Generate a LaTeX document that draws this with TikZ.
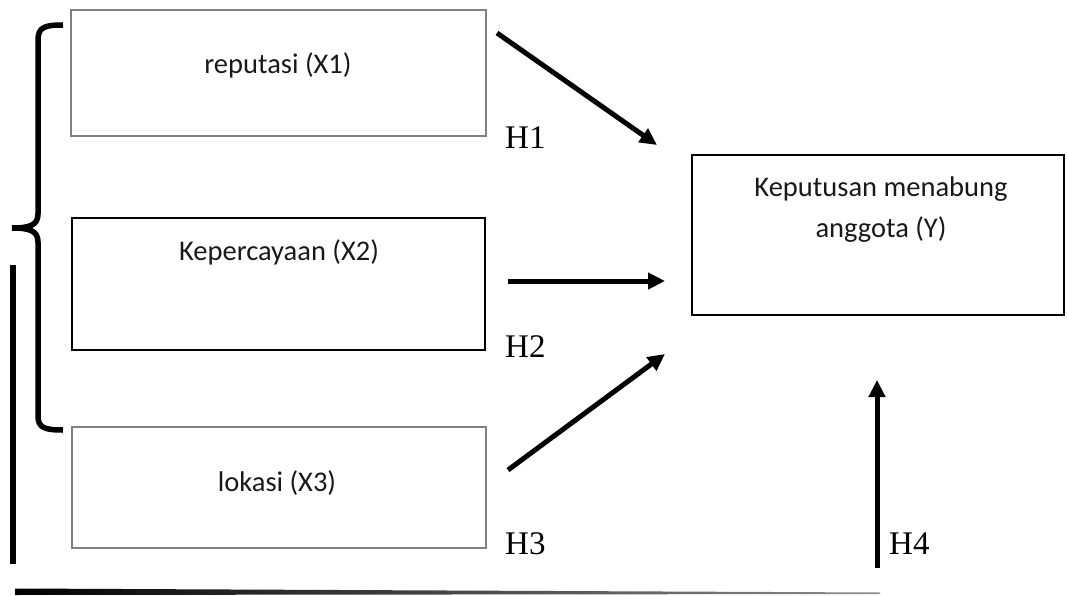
\documentclass[tikz,border=0pt]{standalone}
\usepackage{fontspec}
\setmainfont{Liberation Serif}
\newfontfamily\boxfont{Carlito}
\usetikzlibrary{arrows.meta}
\begin{document}
\begin{tikzpicture}[x=1pt,y=-1pt,
  graybox/.style={draw=black!50, line width=1.8pt, rectangle, inner sep=0pt},
  blackbox/.style={draw=black, line width=1.4pt, rectangle, inner sep=0pt},
  boxtext/.style={font=\boxfont\fontsize{28.5}{41}\selectfont, text=black!90, align=center, inner sep=0pt},
  hlabel/.style={font=\fontsize{33}{36}\selectfont, anchor=west, inner sep=0pt},
  conn/.style={line width=5pt, -{Triangle[length=17pt,width=16pt]}},
  heavy/.style={line width=5.5pt}
]
\useasboundingbox (0,0) rectangle (1068,596);

% boxes
\node[graybox, minimum width=415pt, minimum height=126pt] (x1) at (278.5,73) {};
\node[blackbox, minimum width=413pt, minimum height=132pt] (x2) at (278.5,284) {};
\node[graybox, minimum width=414pt, minimum height=121pt] (x3) at (279,487.5) {};
\node[blackbox, minimum width=372pt, minimum height=160pt] (y) at (878,235) {};

% box texts
\node[boxtext] (t1) at (278,65) {reputasi (X1)};
\node[boxtext] (t2) at (279,252) {Kepercayaan (X2)};
\node[boxtext] (t3) at (277,483) {lokasi (X3)};
\node[boxtext] (ty) at (881,210) {Keputusan menabung\\anggota (Y)};

% arrow end points
\coordinate (a1s) at (497,33);  \coordinate (a1e) at (657,145);
\coordinate (a2s) at (508,281); \coordinate (a2e) at (665,281);
\coordinate (a3s) at (508,470); \coordinate (a3e) at (665,354);
\coordinate (a4s) at (877,568); \coordinate (a4e) at (877,380);

\draw[conn] (a1s) -- (a1e);
\draw[conn] (a2s) -- (a2e);
\draw[conn] (a3s) -- (a3e);
\draw[conn] (a4s) -- (a4e);

% hypothesis labels
\node[hlabel] (h1) at (505,138) {H1};
\node[hlabel] (h2) at (505,347) {H2};
\node[hlabel] (h3) at (505,544) {H3};
\node[hlabel] (h4) at (889,544) {H4};

% brace
\coordinate (bt) at (63,25);
\coordinate (bm) at (12,228);
\coordinate (bb) at (63,430);
\draw[heavy] (bt) .. controls (45,25) and (38,27) .. (38,40) -- (38,214)
  .. controls (38,225) and (30,228) .. (bm)
  .. controls (30,228) and (38,231) .. (38,242) -- (38,416)
  .. controls (38,428) and (45,430) .. (bb);

% left vertical line
\coordinate (v1) at (13,265);
\coordinate (v2) at (13,564);
\draw[heavy] (v1) -- (v2);

% bottom tapered line
\shade[left color=black, right color=black!45] (15,588.5) -- (880,592.5) -- (880,594) -- (15,595) -- cycle;
\end{tikzpicture}
\end{document}
